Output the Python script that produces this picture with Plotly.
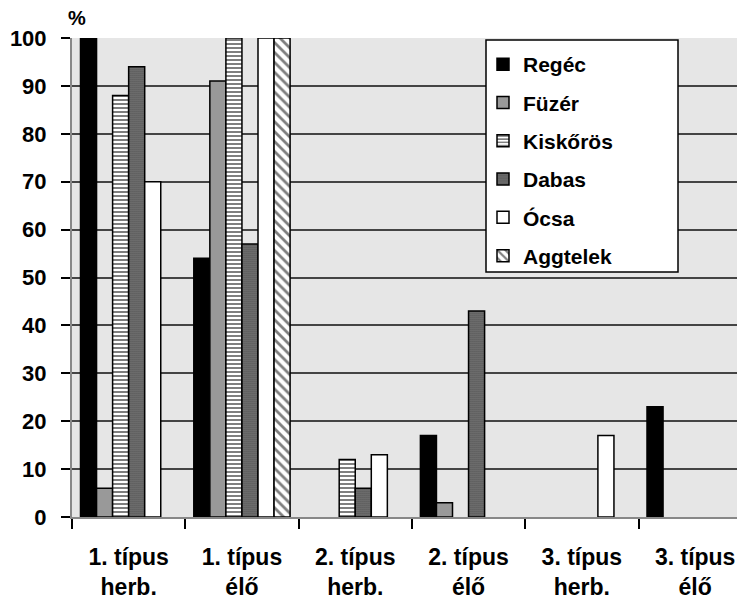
import plotly.graph_objects as go

categories = ["1. típus<br>herb.", "1. típus<br>élő", "2. típus<br>herb.",
              "2. típus<br>élő", "3. típus<br>herb.", "3. típus<br>élő"]
series_names = ["Regéc", "Füzér", "Kiskőrös", "Dabas", "Ócsa", "Aggtelek"]
regec = [100, 54, 0, 17, 0, 23]
fuzer = [6, 91, 0, 3, 0, 0]
kiskoros = [88, 100, 12, 0, 0, 0]
dabas = [94, 57, 6, 43, 0, 0]
ocsa = [70, 100, 13, 0, 17, 0]
aggtelek = [0, 100, 0, 0, 0, 0]
y_ticks = list(range(0, 101, 10))

values = [regec, fuzer, kiskoros, dabas, ocsa, aggtelek]
styles = [
    dict(color="black", pattern=None),
    dict(color="#999999", pattern=None),
    dict(color="white", pattern=dict(shape="-", fgcolor="black", bgcolor="white", size=4, solidity=0.5)),
    dict(color="#777777", pattern=dict(shape=".", fgcolor="#000000", bgcolor="#8a8a8a", size=2, solidity=0.6)),
    dict(color="white", pattern=None),
    dict(color="white", pattern=dict(shape="\\", fgcolor="black", bgcolor="white", size=7, solidity=0.4)),
]

# page body has an 8px default margin; compensate in figure size/margins
W, H = 737, 593
L, T, B = 64, 30, 84
PW, PH = W - L, H - T - B

fig = go.Figure()
for i, (name, vals, st) in enumerate(zip(series_names, values, styles)):
    marker = dict(color=st["color"], line=dict(color="black", width=1.5))
    if st["pattern"]:
        marker["pattern"] = st["pattern"]
    fig.add_trace(go.Bar(x=categories, y=[v if v else None for v in vals],
                         name=name, marker=marker, legendgroup=f"g{i}"))

def px_x(x):  # window px -> paper x
    return (x - 8 - L) / PW

def px_y(y):  # window px -> paper y
    return (H - B - (y - 8)) / PH

fig.update_layout(
    width=W, height=H,
    margin=dict(l=L, r=0, t=T, b=B, autoexpand=False),
    barmode="group", bargap=0.15, bargroupgap=0,
    plot_bgcolor="#e6e6e6", paper_bgcolor="white",
    font=dict(family="Liberation Sans, Arial, sans-serif", color="black"),
    legend=dict(x=px_x(483), y=px_y(44), xanchor="left", yanchor="top",
                bgcolor="rgba(0,0,0,0)", borderwidth=0,
                font=dict(size=21, family="Liberation Sans, Arial", weight="bold"),
                traceorder="grouped", tracegroupgap=8),
    shapes=[dict(type="rect", xref="paper", yref="paper",
                 x0=px_x(486), x1=px_x(678), y0=px_y(272), y1=px_y(40),
                 fillcolor="white", line=dict(color="black", width=1.5),
                 layer="above")],
    annotations=[dict(text="<b>%</b>", x=0, y=1, xref="paper", yref="paper",
                      xanchor="left", yanchor="bottom", showarrow=False,
                      font=dict(size=20), xshift=-6, yshift=7)],
)
fig.update_xaxes(range=[-0.5, -0.5 + PW / 113.3], tickson="boundaries",
                 ticks="outside", ticklen=10, tickcolor="black", tickwidth=1.5,
                 showline=True, linecolor="#888888", linewidth=2,
                 showgrid=False, ticklabelstandoff=18, automargin=False,
                 tickfont=dict(size=23, weight="bold"))
fig.update_yaxes(range=[0, 100], tickvals=y_ticks, ticks="outside", ticklen=9,
                 tickcolor="black", tickwidth=1.5, showline=True,
                 linecolor="#888888", linewidth=2, gridcolor="#444444",
                 gridwidth=1.5, zeroline=False, ticklabelstandoff=10,
                 automargin=False, tickfont=dict(size=22, weight="bold"))

fig.write_html("out.html")
